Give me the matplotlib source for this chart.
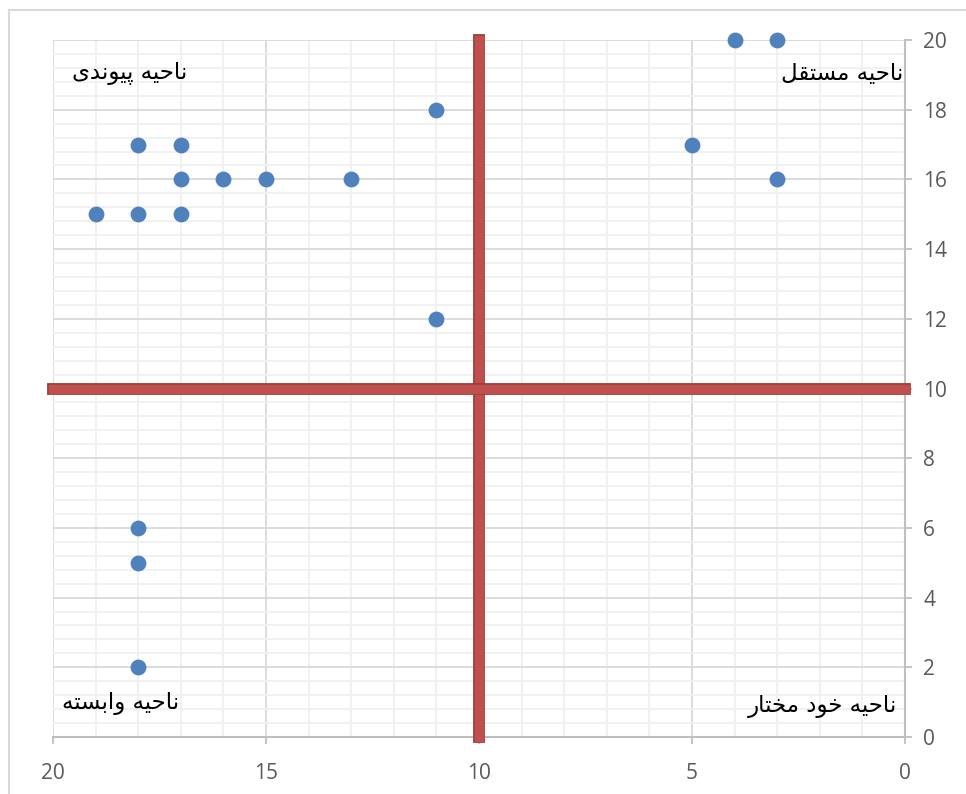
import matplotlib
matplotlib.use("Agg")
import matplotlib.pyplot as plt
import matplotlib.patheffects as pe
from matplotlib.lines import Line2D
from matplotlib.ticker import MultipleLocator

# data points (x, y)
xs = [4, 3, 11, 18, 17, 5, 17, 16, 15, 13, 3, 19, 18, 17, 11, 18, 18, 18]
ys = [20, 20, 18, 17, 17, 17, 16, 16, 16, 16, 16, 15, 15, 15, 12, 6, 5, 2]

split_x = 10
split_y = 10
axis_max = 20

labels = ["ناحیه پیوندی", "ناحیه مستقل", "ناحیه وابسته", "ناحیه خود مختار"]
label_x = [16.85, 0.05, 17.05, 0.18]
label_y = [19.05, 19.05, 0.95, 0.88]

# minimal arabic/persian shaping: (isolated, final, initial, medial)
FORMS = {
    "ا": ("\uFE8D", "\uFE8E", None, None),
    "ب": ("\uFE8F", "\uFE90", "\uFE91", "\uFE92"),
    "ت": ("\uFE95", "\uFE96", "\uFE97", "\uFE98"),
    "ح": ("\uFEA1", "\uFEA2", "\uFEA3", "\uFEA4"),
    "خ": ("\uFEA5", "\uFEA6", "\uFEA7", "\uFEA8"),
    "د": ("\uFEA9", "\uFEAA", None, None),
    "ر": ("\uFEAD", "\uFEAE", None, None),
    "س": ("\uFEB1", "\uFEB2", "\uFEB3", "\uFEB4"),
    "ق": ("\uFED5", "\uFED6", "\uFED7", "\uFED8"),
    "ل": ("\uFEDD", "\uFEDE", "\uFEDF", "\uFEE0"),
    "م": ("\uFEE1", "\uFEE2", "\uFEE3", "\uFEE4"),
    "ن": ("\uFEE5", "\uFEE6", "\uFEE7", "\uFEE8"),
    "ه": ("\uFEE9", "\uFEEA", "\uFEEB", "\uFEEC"),
    "و": ("\uFEED", "\uFEEE", None, None),
    "پ": ("\uFB56", "\uFB57", "\uFB58", "\uFB59"),
    "ی": ("\uFBFC", "\uFBFD", "\uFBFE", "\uFBFF"),
}


def dual(c):
    return c in FORMS and FORMS[c][2] is not None


def shape(text):
    # pick contextual forms, then flip to visual (left-to-right) order
    out = []
    for i, c in enumerate(text):
        if c not in FORMS:
            out.append(c)
            continue
        prev = text[i - 1] if i > 0 else ""
        nxt = text[i + 1] if i + 1 < len(text) else ""
        jp = dual(prev)
        jn = dual(c) and nxt in FORMS
        iso, fin, ini, med = FORMS[c]
        if jp and jn:
            out.append(med)
        elif jp:
            out.append(fin)
        elif jn:
            out.append(ini)
        else:
            out.append(iso)
    return "".join(reversed(out))


plt.rcParams['font.family'] = ['Open Sans', 'DejaVu Sans']

fig = plt.figure(figsize=(9.66, 7.94), dpi=100)
ax = fig.add_axes([0.0549, 0.0718, 0.882, 0.8778])

ax.set_xlim(axis_max, 0)
ax.set_ylim(0, axis_max)

ax.xaxis.set_major_locator(MultipleLocator(5))
ax.xaxis.set_minor_locator(MultipleLocator(1))
ax.yaxis.set_major_locator(MultipleLocator(2))
ax.yaxis.set_minor_locator(MultipleLocator(0.4))
ax.yaxis.tick_right()

ax.grid(which='major', color='#D9D9D9', linewidth=1.3)
ax.grid(which='minor', color='#F0F0F0', linewidth=1.3)
ax.set_axisbelow(True)

for s in ['left', 'top']:
    ax.spines[s].set_visible(False)
for s in ['bottom', 'right']:
    ax.spines[s].set_color('#BFBFBF')
    ax.spines[s].set_linewidth(1.5)

ax.tick_params(which='major', length=5, width=1.3, color='#BFBFBF',
               labelsize=15, labelcolor='#595959')
ax.tick_params(axis='x', pad=14)
ax.tick_params(axis='y', pad=8)
ax.tick_params(which='minor', length=0)

# quadrant dividers
red_fx = [pe.Stroke(linewidth=8.5, foreground='#9A3D3B'), pe.Normal()]
ax.plot([split_x, split_x], [0, axis_max], color='#C0504D', linewidth=6.8,
        solid_capstyle='projecting', clip_on=False, path_effects=red_fx, zorder=3)
ax.plot([axis_max, 0], [split_y, split_y], color='#C0504D', linewidth=6.8,
        solid_capstyle='projecting', clip_on=False, path_effects=red_fx, zorder=3)

ax.scatter(xs, ys, s=130, color='#4F81BD', zorder=4, clip_on=False, linewidths=0)

for t, x, y in zip(labels, label_x, label_y):
    ax.text(x, y, shape(t), ha='right', va='center', fontsize=16.5,
            family=['DejaVu Sans'], color='black', zorder=5)

# outer chart frame
fig.add_artist(Line2D([0.0088, 0.0088], [0, 0.9874], color='#D9D9D9', linewidth=1.5))
fig.add_artist(Line2D([0.0088, 1], [0.9874, 0.9874], color='#D9D9D9', linewidth=1.5))

fig.savefig('out.png', dpi=100)
